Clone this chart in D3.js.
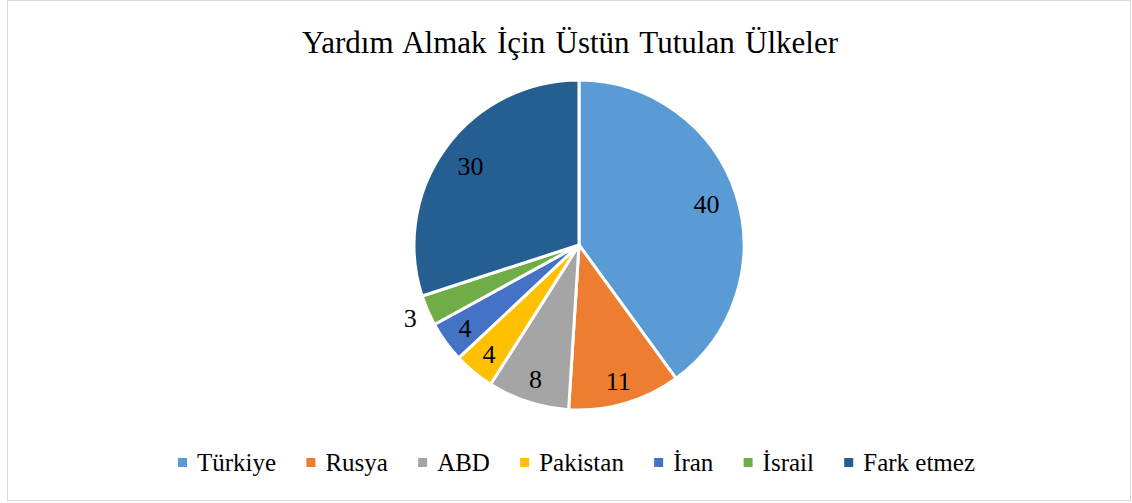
<!DOCTYPE html>
<html><head><meta charset="utf-8">
<script src="https://cdn.jsdelivr.net/npm/d3@7"></script>
<style>body{margin:0;background:#fff}svg{display:block}text{font-family:"Liberation Serif","Times New Roman",serif}</style>
</head><body>
<svg id="c" width="1132" height="503"></svg>
<script>
const title = "Yardım Almak İçin Üstün Tutulan Ülkeler";
const categories = ["Türkiye","Rusya","ABD","Pakistan","İran","İsrail","Fark etmez"];
const values = [40,11,8,4,4,3,30];
const colors = ["#5B9BD5","#ED7D31","#A5A5A5","#FFC000","#4472C4","#70AD47","#255E91"];

const svg = d3.select("#c");
svg.append("rect").attr("x",7.5).attr("y",0.5).attr("width",1123).attr("height",500)
  .attr("fill","#fff").attr("stroke","#d9d9d9").attr("stroke-width",1);

const tt = svg.append("text").attr("x",570).attr("y",53).attr("text-anchor","middle")
  .attr("font-size",31).attr("fill","#000").text(title);
const nat = tt.node().getComputedTextLength();
const nSpaces = title.split(" ").length-1;
tt.attr("word-spacing", Math.max(0,(536-nat)/nSpaces)+"px");

const cx=579, cy=245, r=165;
const data = categories.map((c,i)=>({c, v:values[i], col:colors[i]}));
const pie = d3.pie().value(d=>d.v).sort(null);
const arcs = pie(data);
const arc = d3.arc().innerRadius(0).outerRadius(r);
const g = svg.append("g").attr("transform",`translate(${cx},${cy})`);
g.selectAll("path").data(arcs).join("path").attr("d",arc)
  .attr("fill",d=>d.data.col).attr("stroke","#fff").attr("stroke-width",3).attr("stroke-linejoin","round");

g.selectAll("text.lbl").data(arcs).join("text").attr("class","lbl")
  .attr("transform",d=>{
    const a=(d.startAngle+d.endAngle)/2;
    const rr = d.data.v<4 ? 184 : (d.data.v>=30 ? 134 : 141);
    return `translate(${Math.sin(a)*rr},${-Math.cos(a)*rr})`;
  })
  .attr("text-anchor","middle").attr("dy","0.35em")
  .attr("font-size",26).attr("fill","#000")
  .text(d=>d.data.v);

// legend
const leg = svg.append("g");
const ly = 462;
const items = categories.map((c,i)=>{
  const gi = leg.append("g");
  gi.append("rect").attr("x",0).attr("y",-4).attr("width",9).attr("height",9).attr("fill",colors[i]);
  const t = gi.append("text").attr("x",19).attr("y",0).attr("dy","0.35em")
    .attr("font-size",25).attr("fill","#000").text(c);
  return {gi, w: 19 + t.node().getComputedTextLength()};
});
const start=178, end=975;
const gap = (end-start - d3.sum(items,d=>d.w))/(items.length-1);
let x=start;
items.forEach(it=>{ it.gi.attr("transform",`translate(${x},${ly})`); x+=it.w+gap; });
</script>
</body></html>
